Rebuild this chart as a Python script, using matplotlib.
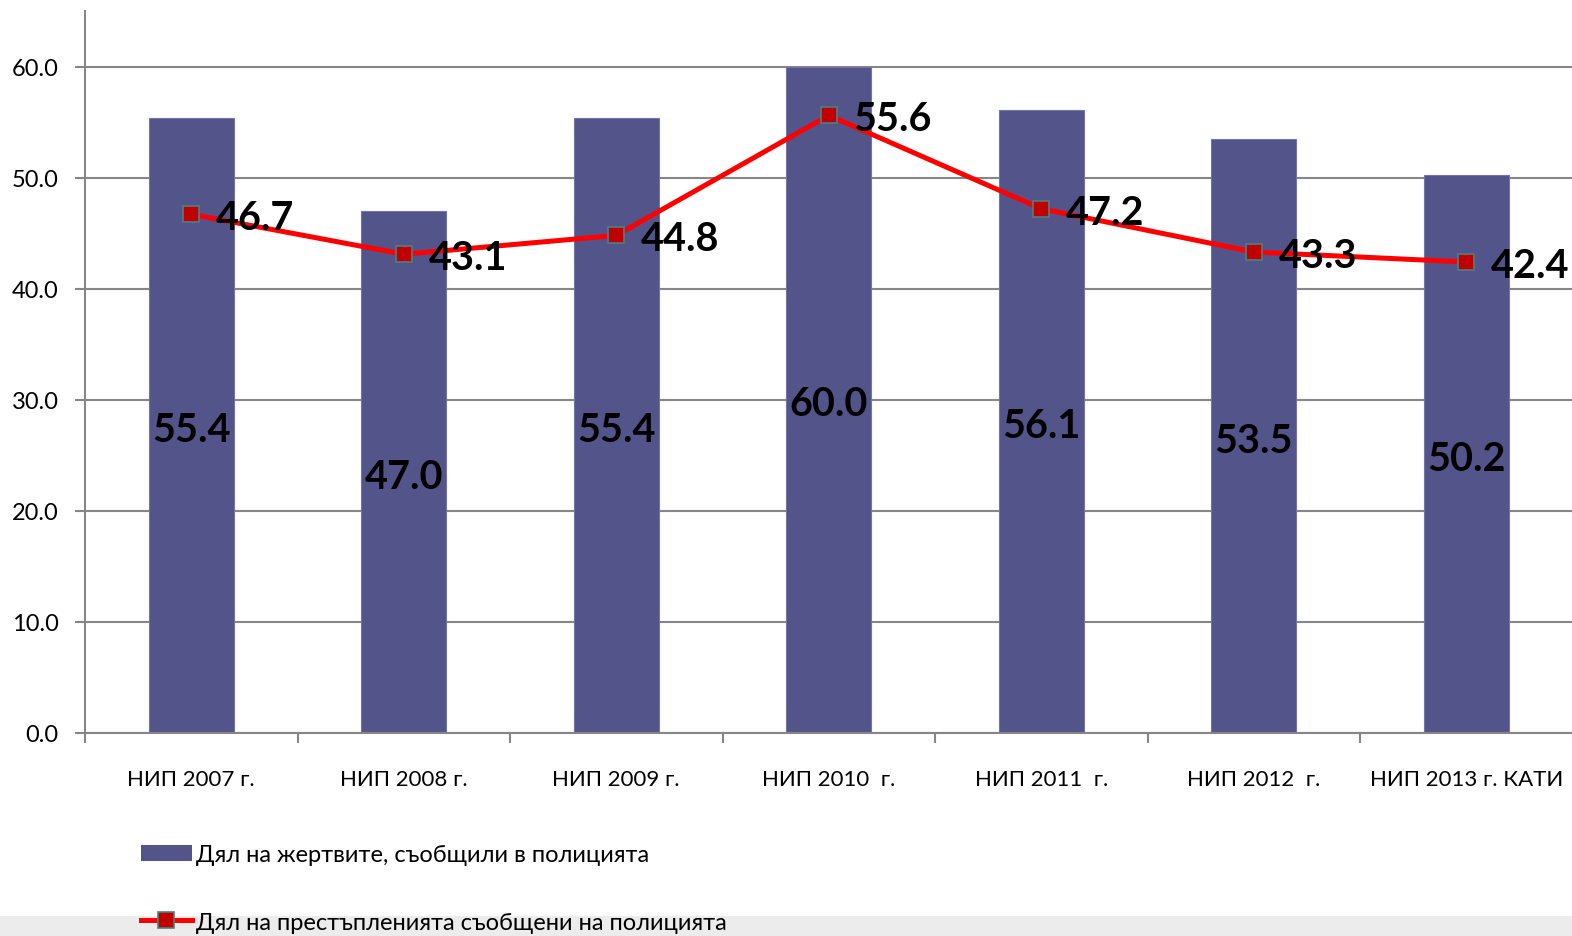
import matplotlib
matplotlib.use("Agg")
import matplotlib.pyplot as plt
from matplotlib.patches import Patch, Rectangle
from matplotlib.lines import Line2D

plt.rcParams['font.family'] = ['Lato', 'Noto Sans', 'DejaVu Sans']

categories = ["НИП 2007 г.", "НИП 2008 г.", "НИП 2009 г.", "НИП 2010  г.",
              "НИП 2011  г.", "НИП 2012  г.", "НИП 2013 г. КАТИ"]
victims_reported = [55.4, 47.0, 55.4, 60.0, 56.1, 53.5, 50.2]
crimes_reported = [46.7, 43.1, 44.8, 55.6, 47.2, 43.3, 42.4]
yticks = [0, 10, 20, 30, 40, 50, 60]
label_bar = "Дял на жертвите, съобщили в полицията"
label_line = "Дял на престъпленията съобщени на полицията"

W, H = 1572, 937
fig = plt.figure(figsize=(W / 100, H / 100), dpi=100)
fig.patch.set_facecolor("white")
fig.add_artist(Rectangle((0, 0), 1, 20 / H, transform=fig.transFigure,
                         facecolor="#ececec", edgecolor="none", zorder=0))

ax = fig.add_axes([85 / W, 1 - 734 / H, (1572.5 - 85) / W, (734 - 12) / H])
ax.set_facecolor("none")
x = list(range(len(categories)))

bar_color = "#53548A"
ax.bar(x, victims_reported, width=0.4, color=bar_color, edgecolor="#7475A6",
       linewidth=0.8, zorder=2)
ax.plot(x, crimes_reported, color="#FF0000", lw=3.6, marker="s", ms=12,
        markerfacecolor="#C00000", markeredgecolor="#4E8080", mew=1.2, zorder=4)

for xi, v in zip(x, victims_reported):
    ax.annotate(f"{v:.1f}", (xi, v / 2), xytext=(0, -3), textcoords="offset points",
                ha="center", va="center", fontsize=28.5,
                fontweight="bold", color="black", zorder=5)
for xi, v in zip(x, crimes_reported):
    ax.annotate(f"{v:.1f}", (xi, v), xytext=(18, -2.5), textcoords="offset points",
                ha="left", va="center", fontsize=28.5, fontweight="bold",
                color="black", zorder=5)

ax.set_xlim(-0.5, len(categories) - 0.5)
ax.set_ylim(0, 65)
ax.set_yticks(yticks)
ax.set_yticklabels([f"{t:.1f}" for t in yticks], fontsize=17)
ax.yaxis.grid(True, color="#868686", lw=1.5, zorder=1)
ax.set_axisbelow(True)
ax.tick_params(axis="y", length=7, width=1.5, color="#868686", pad=12)

ax.set_xticks(x)
ax.set_xticklabels(categories, fontsize=16)
ax.set_xticks([i - 0.5 for i in range(len(categories) + 1)], minor=True)
ax.tick_params(axis="x", which="major", length=0, pad=26)
ax.tick_params(axis="x", which="minor", length=7, width=1.5, color="#868686")

for s in ["top", "right"]:
    ax.spines[s].set_visible(False)
for s in ["left", "bottom"]:
    ax.spines[s].set_color("#868686")
    ax.spines[s].set_linewidth(1.5)

handles = [Patch(facecolor=bar_color, edgecolor="none"),
           Line2D([0], [0], color="#FF0000", lw=3.6, marker="s", ms=12,
                  markerfacecolor="#C00000", markeredgecolor="#4E8080", mew=1.2)]
fig.legend(handles, [label_bar, label_line], loc="upper left",
           bbox_to_anchor=(141 / W, 1 - 845 / H), frameon=False, fontsize=17,
           handlelength=2.15, handleheight=0.64, handletextpad=0.2,
           labelspacing=1.97, borderpad=0, borderaxespad=0)

fig.savefig("out.png", dpi=100)
